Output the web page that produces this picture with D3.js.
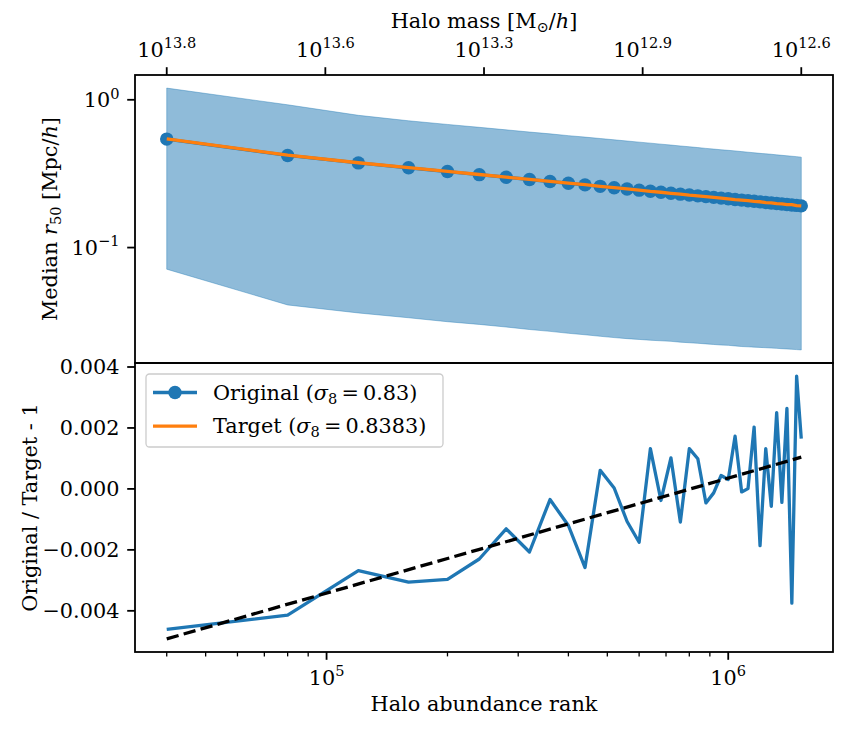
<!DOCTYPE html>
<meta charset="utf-8">
<html>
  <style>
    body, html { margin: 0; background: #fff; }
    svg { font-family: 'DejaVu Serif', serif; }
    .frame { fill: none; stroke: #000; stroke-width: 1.8; }
    .tick line { stroke: #000; }
  </style>
  <body>
    <svg id="chart"></svg>
    <script src="https://cdn.jsdelivr.net/npm/d3@7/dist/d3.min.js"></script>
    <script>
// halo abundance rank of each bin
var ranks = [40000, 80000, 120000, 160000, 200000, 240000, 280000, 320000, 360000, 400000,
  440000, 480000, 520000, 560000, 600000, 640000, 680000, 720000, 760000, 800000,
  840000, 880000, 920000, 960000, 1000000, 1040000, 1080000, 1120000, 1160000, 1200000,
  1240000, 1280000, 1320000, 1360000, 1400000, 1440000, 1480000, 1520000]

// median r50 [Mpc/h], original cosmology
var medianR50 = [0.542, 0.420, 0.374, 0.3467, 0.3268, 0.3115, 0.2991, 0.2888, 0.2800, 0.2724,
  0.2656, 0.2596, 0.2541, 0.2492, 0.2447, 0.2406, 0.2367, 0.2332, 0.2299, 0.2268,
  0.2239, 0.2212, 0.2186, 0.2161, 0.2138, 0.2116, 0.2095, 0.2075, 0.2056, 0.2038,
  0.2020, 0.2004, 0.1988, 0.1972, 0.1957, 0.1943, 0.1929, 0.1915]

// median r50 for target cosmology
var targetR50 = [0.5445, 0.4217, 0.3750, 0.3478, 0.3278, 0.3122, 0.2995, 0.2894, 0.2801, 0.2727,
  0.2663, 0.2594, 0.2541, 0.2495, 0.2451, 0.2403, 0.2368, 0.2330, 0.2302, 0.2265,
  0.2237, 0.2213, 0.2186, 0.2160, 0.2137, 0.2112, 0.2095, 0.2075, 0.2052, 0.2042,
  0.2017, 0.2005, 0.1983, 0.1973, 0.1952, 0.1950, 0.1922, 0.1912]

// spread of r50 in each bin
var bandLow = [0.0714, 0.0409, 0.0361, 0.0335, 0.0315, 0.0302, 0.0290, 0.0279, 0.0271, 0.0263,
  0.0257, 0.0251, 0.0246, 0.0242, 0.0239, 0.0236, 0.0234, 0.0232, 0.0229, 0.0227,
  0.0225, 0.0223, 0.0221, 0.0219, 0.0218, 0.0216, 0.0214, 0.0213, 0.0212, 0.0211,
  0.0210, 0.0209, 0.0208, 0.0207, 0.0206, 0.0205, 0.0204, 0.0203]
var bandHigh = [1.20, 0.925, 0.785, 0.721, 0.681, 0.651, 0.626, 0.605, 0.588, 0.572,
  0.559, 0.547, 0.536, 0.526, 0.517, 0.509, 0.501, 0.494, 0.487, 0.481,
  0.475, 0.469, 0.464, 0.459, 0.455, 0.451, 0.446, 0.442, 0.438, 0.434,
  0.431, 0.428, 0.424, 0.421, 0.418, 0.415, 0.4125, 0.409]

// original / target - 1
var ratio = [-0.00461, -0.00414, -0.00268, -0.00306, -0.00297, -0.00230, -0.00131, -0.00207, -0.00035, -0.00120,
  -0.00258, 0.00061, 0.00003, -0.00107, -0.00175, 0.00132, -0.00038, 0.00102, -0.00109, 0.00132,
  0.00099, -0.00046, -0.00013, 0.00044, 0.00031, 0.00173, -0.00010, 0.00001, 0.00203, -0.00186,
  0.00132, -0.00057, 0.00250, -0.00044, 0.00264, -0.00375, 0.00370, 0.00165]

// linear fit in log rank
var fitRanks = [40000, 1520000]
var fitRatio = [-0.00492, 0.00104]

// secondary axis: halo mass
var massTickRanks = [40000, 99300, 246600, 612300, 1520000]
var massTickLabels = ['13.8', '13.6', '13.3', '12.9', '12.6']

var rankTicks = [1e5, 1e6]
var rankMinor = [40000, 50000, 60000, 70000, 80000, 90000, 200000, 300000, 400000, 500000, 600000, 700000, 800000, 900000]
var r50Ticks = [0.1, 1]
var ratioTicks = [-0.004, -0.002, 0, 0.002, 0.004]

var W = 856, H = 732
  , left = 135, right = 833
  , top1 = 75, mid = 363, bot = 652
  , fs = 20.8
  , blue = '#1f77b4', orange = '#ff7f0e'
  , svg = d3.select('#chart').attr('width', W).attr('height', H)

function logPad(lo, hi){
  var a = Math.log10(lo), b = Math.log10(hi), m = (b - a) * 0.05
  return [Math.pow(10, a - m), Math.pow(10, b + m)]
}
function linPad(lo, hi){ var m = (hi - lo) * 0.05; return [lo - m, hi + m] }

var x = d3.scaleLog().domain(logPad(d3.min(ranks), d3.max(ranks))).range([left, right])
  , y1 = d3.scaleLog().domain(logPad(d3.min(bandLow), d3.max(bandHigh))).range([mid, top1])
  , y2 = d3.scaleLinear().domain(linPad(Math.min(d3.min(ratio), d3.min(fitRatio)),
      Math.max(d3.max(ratio), d3.max(fitRatio)))).range([bot, mid])

// rich text: parts with sup / sub / italic
function rich(sel, parts, size){
  var shift = 0
  parts.forEach(function(p){
    var ts = sel.append('tspan').text(p.t)
      , want = p.sup ? -0.42 * size : p.sub ? 0.2 * size : 0
    if (want !== shift){ ts.attr('dy', want - shift); shift = want }
    if (p.sup || p.sub) ts.attr('font-size', size * 0.7)
    if (p.i) ts.attr('font-style', 'italic')
  })
}
function pow10(sel, exp){ rich(sel, [{t: '10'}, {t: exp, sup: true}], fs) }

// ---------- top panel ----------
var g1 = svg.append('g')
var idx = d3.range(ranks.length)
g1.append('path')
  .attr('d', d3.area().x(function(i){ return x(ranks[i]) })
    .y0(function(i){ return y1(bandLow[i]) }).y1(function(i){ return y1(bandHigh[i]) })(idx))
  .attr('fill', blue).attr('fill-opacity', 0.5)
  .attr('stroke', blue).attr('stroke-opacity', 0.5).attr('stroke-width', 0.8)

g1.selectAll('.pt').data(idx).enter().append('circle')
  .attr('cx', function(i){ return x(ranks[i]) })
  .attr('cy', function(i){ return y1(medianR50[i]) })
  .attr('r', 6.7).attr('fill', blue)
g1.append('path')
  .attr('d', d3.line().x(function(i){ return x(ranks[i]) }).y(function(i){ return y1(medianR50[i]) })(idx))
  .attr('fill', 'none').attr('stroke', blue).attr('stroke-width', 3.3)
g1.append('path')
  .attr('d', d3.line().x(function(i){ return x(ranks[i]) }).y(function(i){ return y1(targetR50[i]) })(idx))
  .attr('fill', 'none').attr('stroke', orange).attr('stroke-width', 3.3)

// y ticks top
var ya1 = svg.append('g').attr('class', 'tick')
r50Ticks.forEach(function(v){
  var yy = y1(v)
  ya1.append('line').attr('x1', left - 7.8).attr('x2', left).attr('y1', yy).attr('y2', yy).attr('stroke-width', 1.8)
  var t = ya1.append('text').attr('x', left - 15.6).attr('y', yy + 7.5).attr('text-anchor', 'end').attr('font-size', fs)
  pow10(t, v === 1 ? '0' : '\u22121')
})

// top mass axis
var xa1 = svg.append('g').attr('class', 'tick')
massTickRanks.forEach(function(r, i){
  var xx = x(r)
  xa1.append('line').attr('x1', xx).attr('x2', xx).attr('y1', top1 - 7.8).attr('y2', top1).attr('stroke-width', 1.8)
  var t = xa1.append('text').attr('x', xx).attr('y', 57).attr('text-anchor', 'middle').attr('font-size', fs)
  pow10(t, massTickLabels[i])
})
var mt = svg.append('text').attr('x', (left + right) / 2).attr('y', 28).attr('text-anchor', 'middle').attr('font-size', fs)
rich(mt, [{t: 'Halo mass [M'}, {t: '\u2299', sub: true}, {t: '/'}, {t: 'h', i: true}, {t: ']'}], fs)

var yl1 = svg.append('text').attr('transform', 'translate(57,' + (top1 + mid) / 2 + ') rotate(-90)')
  .attr('text-anchor', 'middle').attr('font-size', fs)
rich(yl1, [{t: 'Median '}, {t: 'r', i: true}, {t: '50', sub: true}, {t: ' [Mpc/'}, {t: 'h', i: true}, {t: ']'}], fs)

// ---------- bottom panel ----------
var g2 = svg.append('g')
g2.append('path')
  .attr('d', d3.line().x(function(i){ return x(ranks[i]) }).y(function(i){ return y2(ratio[i]) })(idx))
  .attr('fill', 'none').attr('stroke', blue).attr('stroke-width', 3.3).attr('stroke-linejoin', 'round')
g2.append('path')
  .attr('d', d3.line().x(function(d){ return x(d[0]) }).y(function(d){ return y2(d[1]) })(d3.zip(fitRanks, fitRatio)))
  .attr('fill', 'none').attr('stroke', '#000').attr('stroke-width', 3.3).attr('stroke-dasharray', '12.3,5.3')

var ya2 = svg.append('g').attr('class', 'tick')
ratioTicks.forEach(function(v){
  var yy = y2(v)
  ya2.append('line').attr('x1', left - 7.8).attr('x2', left).attr('y1', yy).attr('y2', yy).attr('stroke-width', 1.8)
  ya2.append('text').attr('x', left - 15.6).attr('y', yy + 7.5).attr('text-anchor', 'end').attr('font-size', fs)
    .text(d3.format('.3f')(v).replace('-', '\u2212'))
})

var xa2 = svg.append('g').attr('class', 'tick')
rankMinor.forEach(function(r){
  var xx = x(r)
  xa2.append('line').attr('x1', xx).attr('x2', xx).attr('y1', bot).attr('y2', bot + 4.4).attr('stroke-width', 1.3)
})
rankTicks.forEach(function(r){
  var xx = x(r)
  xa2.append('line').attr('x1', xx).attr('x2', xx).attr('y1', bot).attr('y2', bot + 7.8).attr('stroke-width', 1.8)
  var t = xa2.append('text').attr('x', xx).attr('y', 685).attr('text-anchor', 'middle').attr('font-size', fs)
  pow10(t, String(Math.round(Math.log10(r))))
})
svg.append('text').attr('x', (left + right) / 2).attr('y', 711).attr('text-anchor', 'middle')
  .attr('font-size', fs).text('Halo abundance rank')
svg.append('text').attr('transform', 'translate(37,' + (mid + bot) / 2 + ') rotate(-90)')
  .attr('text-anchor', 'middle').attr('font-size', fs).text('Original / Target - 1')

// legend
var lg = svg.append('g').attr('transform', 'translate(146,374)')
lg.append('rect').attr('width', 297).attr('height', 73).attr('rx', 3.5)
  .attr('fill', '#fff').attr('fill-opacity', 0.8).attr('stroke', '#cccccc').attr('stroke-width', 1.3)
var entries = [
  {c: blue, dot: true, parts: [{t: 'Original ('}, {t: '\u03c3', i: true}, {t: '8', sub: true}, {t: '\u2009=\u20090.83)'}]},
  {c: orange, dot: false, parts: [{t: 'Target ('}, {t: '\u03c3', i: true}, {t: '8', sub: true}, {t: '\u2009=\u20090.8383)'}]}
]
entries.forEach(function(e, i){
  var yy = 18.5 + i * 33.7
  lg.append('line').attr('x1', 7).attr('x2', 51).attr('y1', yy).attr('y2', yy).attr('stroke', e.c).attr('stroke-width', 3.3)
  if (e.dot) lg.append('circle').attr('cx', 29).attr('cy', yy).attr('r', 6.7).attr('fill', e.c)
  var t = lg.append('text').attr('x', 67).attr('y', yy + 7).attr('font-size', fs)
  rich(t, e.parts, fs)
})

// frames
svg.append('rect').attr('class', 'frame').attr('x', left).attr('y', top1).attr('width', right - left).attr('height', mid - top1)
svg.append('rect').attr('class', 'frame').attr('x', left).attr('y', mid).attr('width', right - left).attr('height', bot - mid)
    </script>
  </body>
</html>
